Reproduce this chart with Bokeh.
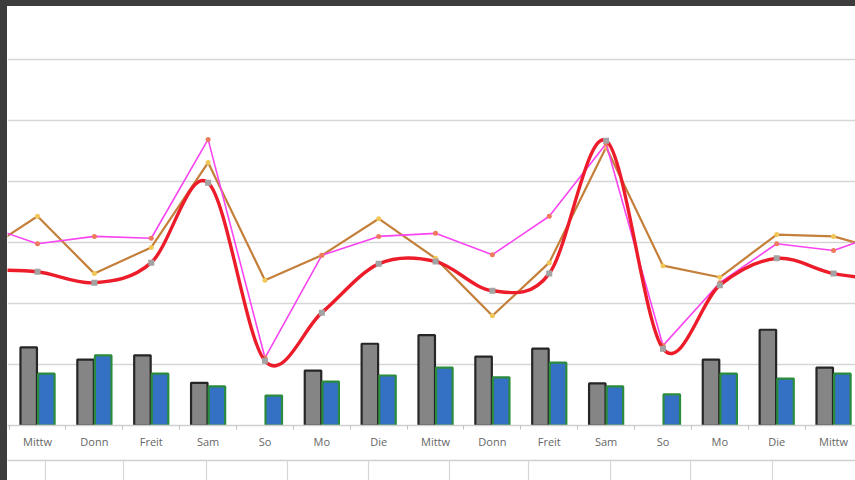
from bokeh.plotting import figure
from bokeh.models import (ColumnDataSource, Range1d, FixedTicker, SingleIntervalTicker,
                          Grid, LinearAxis, Div)
from bokeh.layouts import column, row
from bokeh.transform import dodge
from bokeh.embed import file_html
from bokeh.resources import INLINE

nan = float("nan")

# ---- data -------------------------------------------------------------
categories = ["Mittw", "Donn", "Freit", "Sam", "So", "Mo", "Die",
              "Mittw", "Donn", "Freit", "Sam", "So", "Mo", "Die", "Mittw"]
bar_grey = [12.8, 10.8, 11.5, 7.0, nan, 9.0, 13.4, 14.8, 11.3, 12.6, 6.9, nan, 10.8, 15.7, 9.5]
bar_blue = [8.5, 11.5, 8.5, 6.4, 4.9, 7.2, 8.2, 9.5, 7.9, 10.3, 6.4, 5.1, 8.5, 7.7, 8.5]

# line series include one point before and after the visible window (chart is cropped)
line_index = list(range(-1, 16))
line_red = [25.5, 25.2, 23.4, 26.7, 39.8, 10.6, 18.5, 26.5, 26.9, 22.1, 24.9, 46.7, 12.6, 23.0, 27.4, 24.9, 23.8]
line_magenta = [33.0, 29.8, 31.0, 30.7, 46.9, 11.1, 27.9, 31.0, 31.5, 28.0, 34.3, 46.2, 13.1, 23.4, 29.8, 28.7, 32.0]
line_orange = [28.2, 34.3, 24.9, 29.2, 43.1, 23.8, 27.9, 33.9, 27.4, 18.0, 26.7, 45.6, 26.2, 24.3, 31.3, 31.0, 28.4]

x_idx = list(range(len(categories)))

# ---- figure -----------------------------------------------------------
p = figure(frame_width=848, frame_height=419,
           x_range=Range1d(-0.528, 14.386), y_range=Range1d(0, 68.69),
           output_backend="svg", toolbar_location=None,
           x_axis_location="below", y_axis_location=None,
           min_border_left=0, min_border_right=0, min_border_top=0, min_border_bottom=0,
           margin=0)
p.outline_line_color = None
p.background_fill_color = "white"
p.border_fill_color = "white"
for g in p.grid:
    g.visible = False
p.add_layout(Grid(dimension=1, ticker=SingleIntervalTicker(interval=10),
                  grid_line_color="#d6d6d6", grid_line_width=1.6))

ax = p.xaxis[0]
ax.ticker = FixedTicker(ticks=x_idx, minor_ticks=[k - 0.5 for k in range(len(categories) + 1)])
ax.major_label_overrides = {i: c for i, c in enumerate(categories)}
ax.major_tick_in = 0
ax.major_tick_out = 0
ax.minor_tick_in = 0
ax.minor_tick_out = 4
ax.minor_tick_line_color = "#c0c0c0"
ax.axis_line_color = "#cfcfcf"
ax.axis_line_width = 1.6
ax.major_label_text_font = "Open Sans"
ax.major_label_text_font_size = "11px"
ax.major_label_text_color = "#666666"
ax.major_label_standoff = 4
ax.axis_label = "\u00a0"
ax.axis_label_text_font_size = "6px"
ax.axis_label_standoff = 0

# separator row under the category labels (minor ticks only, no labels)
p.extra_x_ranges = {"sep": Range1d(7, 855)}
sep_axis = LinearAxis(x_range_name="sep",
                      ticker=FixedTicker(ticks=[], minor_ticks=[45, 123, 206, 287, 368, 449, 528, 610, 690, 772]),
                      major_tick_in=0, major_tick_out=0, minor_tick_out=20, minor_tick_in=0,
                      minor_tick_line_color="#d6d6d6", minor_tick_line_width=1.2,
                      axis_line_color="#d0d0d0", axis_line_width=1.6,
                      major_label_standoff=0)
p.add_layout(sep_axis, "below")

# ---- bars -------------------------------------------------------------
bars = ColumnDataSource(dict(x=x_idx, grey=bar_grey, blue=bar_blue))
p.vbar(x=dodge("x", -0.155, range=p.x_range), top="grey", bottom=0, width=0.29, source=bars,
       fill_color="#858585", line_color="#262626", line_width=2.2)
p.vbar(x=dodge("x", 0.155, range=p.x_range), top="blue", bottom=0, width=0.29, source=bars,
       fill_color="#3470c4", line_color="#2a8c3c", line_width=2.2)

# ---- lines ------------------------------------------------------------
p.line(line_index, line_orange, line_color="#c47f3a", line_width=2.2)
p.scatter(line_index, line_orange, marker="circle", size=5, fill_color="#f2c75a", line_color=None)

p.line(line_index, line_magenta, line_color="#f845f0", line_width=1.6)
p.scatter(line_index, line_magenta, marker="circle", size=5, fill_color="#ee7a5e", line_color=None)

# smoothed red line (Catmull-Rom -> cubic Bezier segments, like Excel's smoothing)
n = len(line_index)
bz = dict(x0=[], y0=[], x1=[], y1=[], cx0=[], cy0=[], cx1=[], cy1=[])
for i in range(n - 1):
    i0 = max(i - 1, 0)
    i3 = min(i + 2, n - 1)
    xa, ya = line_index[i], line_red[i]
    xb, yb = line_index[i + 1], line_red[i + 1]
    bz["x0"].append(xa); bz["y0"].append(ya)
    bz["x1"].append(xb); bz["y1"].append(yb)
    bz["cx0"].append(xa + (xb - line_index[i0]) / 6.0)
    bz["cy0"].append(ya + (yb - line_red[i0]) / 6.0)
    bz["cx1"].append(xb - (line_index[i3] - xa) / 6.0)
    bz["cy1"].append(yb - (line_red[i3] - ya) / 6.0)
p.bezier(source=ColumnDataSource(bz), line_color="#ec1c2a", line_width=3.4)
p.scatter(line_index, line_red, marker="square", size=6, fill_color="#a3a3a3", line_color=None)

# dark window border visible along the top and left of the screenshot
top_band = Div(width=855, height=6, margin=0, styles={"background-color": "#3c3c3c"})
left_band = Div(width=7, height=474, margin=0, styles={"background-color": "#3c3c3c"})
page = column(top_band, row(left_band, p, spacing=0, margin=0), spacing=0, margin=0)

open("out.html", "w").write(file_html(page, INLINE))
